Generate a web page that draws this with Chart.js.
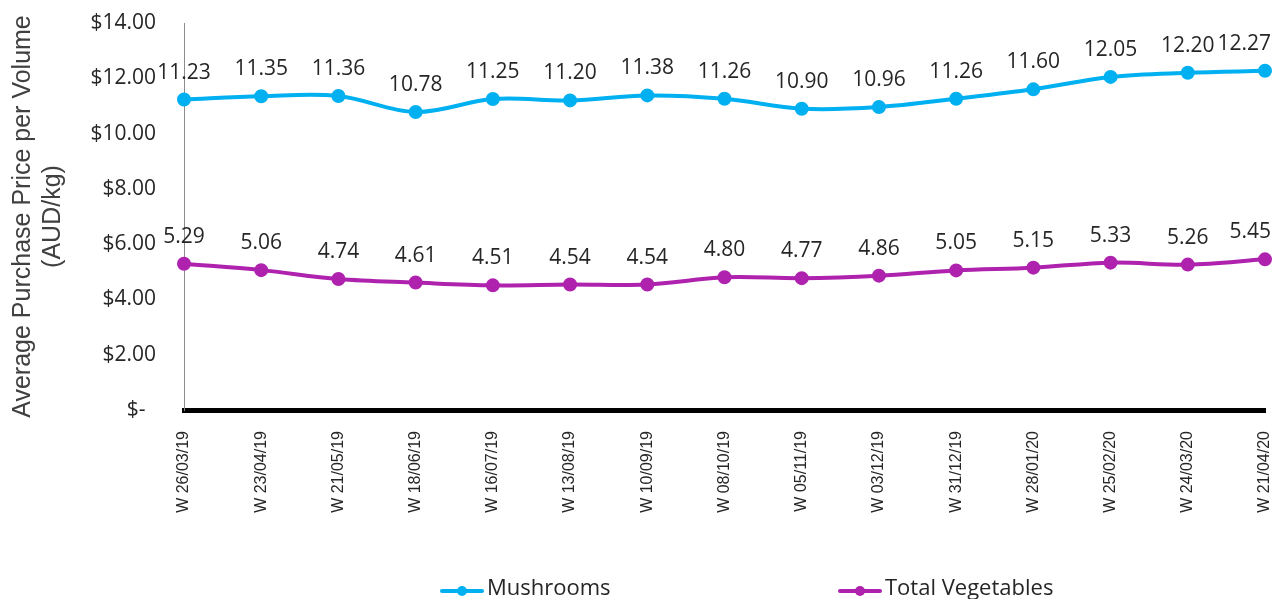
<!DOCTYPE html>
<html lang="en">
<head>
    <meta charset="UTF-8">
    <title>Average Purchase Price per Volume</title>
    <script src="https://cdn.jsdelivr.net/npm/chart.js"></script>
    <style>
        body {
            margin: 0;
            padding: 0;
            background: #ffffff;
        }
        #wrap {
            width: 1282px;
            height: 599px;
        }
    </style>
</head>
<body>
    <div id="wrap">
        <canvas id="priceChart" width="1282" height="599"></canvas>
    </div>

    <script>
        // weekly average purchase price (AUD/kg)
        const weeks = ['W 26/03/19', 'W 23/04/19', 'W 21/05/19', 'W 18/06/19', 'W 16/07/19',
            'W 13/08/19', 'W 10/09/19', 'W 08/10/19', 'W 05/11/19', 'W 03/12/19',
            'W 31/12/19', 'W 28/01/20', 'W 25/02/20', 'W 24/03/20', 'W 21/04/20'];
        const mushrooms = [11.23, 11.35, 11.36, 10.78, 11.25, 11.20, 11.38, 11.26, 10.90, 10.96, 11.26, 11.60, 12.05, 12.20, 12.27];
        const totalVeg = [5.29, 5.06, 4.74, 4.61, 4.51, 4.54, 4.54, 4.80, 4.77, 4.86, 5.05, 5.15, 5.33, 5.26, 5.45];
        const seriesNames = ['Mushrooms', 'Total Vegetables'];
        const seriesColors = ['#00B0F0', '#AE22AE'];

        const labelFont = '21px "Open Sans", sans-serif';
        const textColor = '#262626';

        // value labels above each point, kept inside the canvas on the right
        const valueLabels = {
            id: 'valueLabels',
            afterDatasetsDraw(chart) {
                const ctx = chart.ctx;
                ctx.save();
                ctx.font = labelFont;
                ctx.fillStyle = textColor;
                ctx.textBaseline = 'alphabetic';
                ctx.textAlign = 'left';
                chart.data.datasets.forEach((ds, i) => {
                    chart.getDatasetMeta(i).data.forEach((pt, j) => {
                        const txt = ds.data[j].toFixed(2);
                        const w = ctx.measureText(txt).width;
                        let x = pt.x - w / 2;
                        if (x + w > chart.width - 11) x = chart.width - 11 - w;
                        ctx.fillText(txt, x, pt.y - 21);
                    });
                });
                ctx.restore();
            }
        };

        // legend along the bottom: line with a dot, then the name
        const bottomLegend = {
            id: 'bottomLegend',
            afterDraw(chart) {
                const ctx = chart.ctx;
                const starts = [440, 838];
                const y = 591;
                ctx.save();
                ctx.font = '22px "Open Sans", sans-serif';
                ctx.textBaseline = 'middle';
                seriesNames.forEach((name, i) => {
                    const x = starts[i];
                    ctx.strokeStyle = seriesColors[i];
                    ctx.fillStyle = seriesColors[i];
                    ctx.lineWidth = 4;
                    ctx.lineCap = 'round';
                    ctx.beginPath();
                    ctx.moveTo(x + 2, y);
                    ctx.lineTo(x + 42, y);
                    ctx.stroke();
                    ctx.beginPath();
                    ctx.arc(x + 22, y, 5, 0, Math.PI * 2);
                    ctx.fill();
                    ctx.fillStyle = textColor;
                    ctx.fillText(name, x + 47, y - 2);
                });
                ctx.restore();
            }
        };

        const ctx = document.getElementById('priceChart').getContext('2d');
        new Chart(ctx, {
            type: 'line',
            data: {
                labels: weeks,
                datasets: [mushrooms, totalVeg].map((vals, i) => ({
                    label: seriesNames[i],
                    data: vals,
                    borderColor: seriesColors[i],
                    backgroundColor: seriesColors[i],
                    pointBackgroundColor: seriesColors[i],
                    pointBorderColor: seriesColors[i],
                    borderWidth: 4,
                    pointRadius: 5,
                    tension: 0.35,
                    clip: false
                }))
            },
            options: {
                responsive: false,
                devicePixelRatio: 1,
                animation: false,
                layout: {
                    padding: { top: 23, left: 0, right: 17, bottom: 83 }
                },
                plugins: {
                    legend: { display: false },
                    tooltip: { enabled: false }
                },
                scales: {
                    x: {
                        offset: false,
                        grid: { display: false, drawTicks: false },
                        border: { display: true, color: '#000000', width: 5 },
                        ticks: {
                            minRotation: 90,
                            maxRotation: 90,
                            autoSkip: false,
                            padding: 21,
                            color: textColor,
                            font: { family: '"Liberation Sans", Arial, sans-serif', size: 16 }
                        },
                        afterFit(scale) {
                            scale.height = 106;
                            scale.paddingLeft = 0;
                            scale.paddingRight = 0;
                        }
                    },
                    y: {
                        min: 0,
                        max: 14,
                        grid: { display: false, drawTicks: false },
                        border: { display: true, color: '#8c8c8c', width: 1 },
                        ticks: {
                            stepSize: 2,
                            padding: 28,
                            color: textColor,
                            font: { family: '"Open Sans", sans-serif', size: 21 },
                            callback: v => v === 0 ? '$-\u2002' : '$' + v.toFixed(2)
                        },
                        title: {
                            display: true,
                            text: ['Average Purchase Price per Volume', '(AUD/kg)'],
                            color: '#404040',
                            padding: { top: 8, bottom: 0 },
                            font: { family: '"Liberation Sans", Arial, sans-serif', size: 25, lineHeight: 1.2 }
                        },
                        afterFit(scale) {
                            scale.width = 184;
                            scale.paddingTop = 0;
                            scale.paddingBottom = 0;
                        }
                    }
                }
            },
            plugins: [valueLabels, bottomLegend]
        });
    </script>
</body>
</html>
